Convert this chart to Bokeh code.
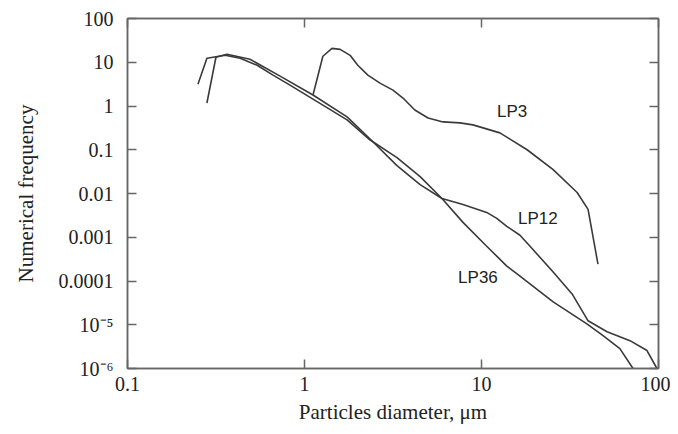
from bokeh.plotting import figure
from bokeh.models import Range1d, LogAxis, FixedTicker
from bokeh.core.properties import value
from bokeh.embed import file_html
from bokeh.resources import INLINE

# ---- data ----
lp3_x = [1.117, 1.27, 1.43, 1.59, 1.81, 2.0, 2.28, 2.67, 3.16, 3.6, 4.2, 4.99, 6.06, 7.56, 8.95, 12.7, 18.1, 25.4, 34.7, 40.0, 45.5]
lp3_y = [1.78, 13.7, 20.8, 19.7, 14.4, 8.55, 5.07, 3.33, 2.31, 1.52, 0.81, 0.533, 0.433, 0.411, 0.37, 0.243, 0.1, 0.0351, 0.01055, 0.00433, 2.43e-4]

lp12_x = [0.281, 0.316, 0.365, 0.492, 0.728, 1.117, 1.74, 2.34, 3.33, 4.5, 5.98, 7.86, 10.7, 12.2, 13.9, 16.5, 18.8, 25.4, 32.5, 40.0, 51.2, 69.0, 86.1, 98.0]
lp12_y = [1.17, 13.0, 15.2, 11.7, 4.81, 1.78, 0.562, 0.178, 0.0433, 0.016, 0.00769, 0.00562, 0.0037, 0.0027, 0.00178, 0.00111, 6.24e-4, 1.6e-4, 5.07e-5, 1.23e-5, 6.94e-6, 4.33e-6, 2.57e-6, 1.0e-6]

lp36_x = [0.25, 0.281, 0.356, 0.433, 0.54, 0.664, 0.828, 1.117, 1.74, 2.34, 3.33, 4.5, 5.98, 7.86, 10.7, 13.9, 16.5, 25.4, 39.4, 48.6, 60.5, 71.8]
lp36_y = [3.16, 12.3, 14.4, 12.3, 8.55, 5.07, 3.0, 1.44, 0.481, 0.169, 0.0658, 0.0243, 0.00769, 0.00219, 6.24e-4, 2.19e-4, 1.3e-4, 3.33e-5, 1.05e-5, 5.62e-6, 2.85e-6, 1.0e-6]

x_ticks = [0.1, 1, 10, 100]
x_tick_labels = ["0.1", "1", "10", "100"]
y_ticks = [1e-6, 1e-5, 1e-4, 1e-3, 1e-2, 0.1, 1, 10, 100]
y_tick_labels = ["10\u207b\u2076", "10\u207b\u2075", "0.0001", "0.001", "0.01", "0.1", "1", "10", "100"]

series_labels = ["LP3", "LP12", "LP36"]

LINE = "#3a3a3a"
AX = "#666666"
SERIF = "Liberation Serif"

p = figure(width=670, height=426, x_axis_type="log", y_axis_type="log",
           x_range=Range1d(0.1, 100), y_range=Range1d(1e-6, 100),
           output_backend="svg", toolbar_location=None,
           min_border_left=127, min_border_right=12, min_border_top=18, min_border_bottom=56)
p.grid.visible = False
p.outline_line_color = AX
p.outline_line_width = 1.5
p.background_fill_color = "white"
p.border_fill_color = "white"

def style_axis(ax, show_labels=True):
    ax.axis_line_color = AX
    ax.axis_line_width = 1.5
    ax.major_tick_line_color = AX
    ax.major_tick_line_width = 1.5
    ax.major_tick_in = 9
    ax.major_tick_out = 0
    ax.minor_tick_line_color = None
    ax.major_label_text_font = SERIF
    ax.major_label_text_font_size = "20px"
    ax.major_label_text_color = "#222222"
    ax.axis_label_text_font = SERIF
    ax.axis_label_text_font_size = "21px"
    ax.axis_label_text_font_style = "normal"
    ax.axis_label_text_color = "#222222"
    if not show_labels:
        ax.major_label_text_font_size = "1px"
        ax.major_label_text_alpha = 0
        ax.major_label_standoff = 0

xa = p.xaxis[0]
xa.ticker = FixedTicker(ticks=x_ticks, minor_ticks=[])
xa.major_label_overrides = {t: l for t, l in zip(x_ticks, x_tick_labels)}
xa.axis_label = "Particles diameter, \u03bcm"
style_axis(xa)
xa.major_label_standoff = 8
xa.axis_label_standoff = 6

ya = p.yaxis[0]
ya.ticker = FixedTicker(ticks=y_ticks, minor_ticks=[])
ya.major_label_overrides = {t: l for t, l in zip(y_ticks, y_tick_labels)}
ya.axis_label = "Numerical frequency"
style_axis(ya)
ya.major_label_standoff = 14
ya.axis_label_standoff = 18

top = LogAxis(ticker=FixedTicker(ticks=x_ticks, minor_ticks=[]))
style_axis(top, show_labels=False)
p.add_layout(top, "above")
right = LogAxis(ticker=FixedTicker(ticks=y_ticks, minor_ticks=[]))
style_axis(right, show_labels=False)
p.add_layout(right, "right")

for xs, ys in [(lp3_x, lp3_y), (lp12_x, lp12_y), (lp36_x, lp36_y)]:
    p.line(xs, ys, line_color=LINE, line_width=1.6)

p.text(x=[14.9, 20.8, 9.55], y=[0.73, 0.0027, 1.23e-4], text=series_labels,
       text_font=value("Liberation Sans"), text_font_size="17px",
       text_align="center", text_baseline="middle", text_color="#222222")

open("out.html", "w").write(file_html(p, INLINE))
